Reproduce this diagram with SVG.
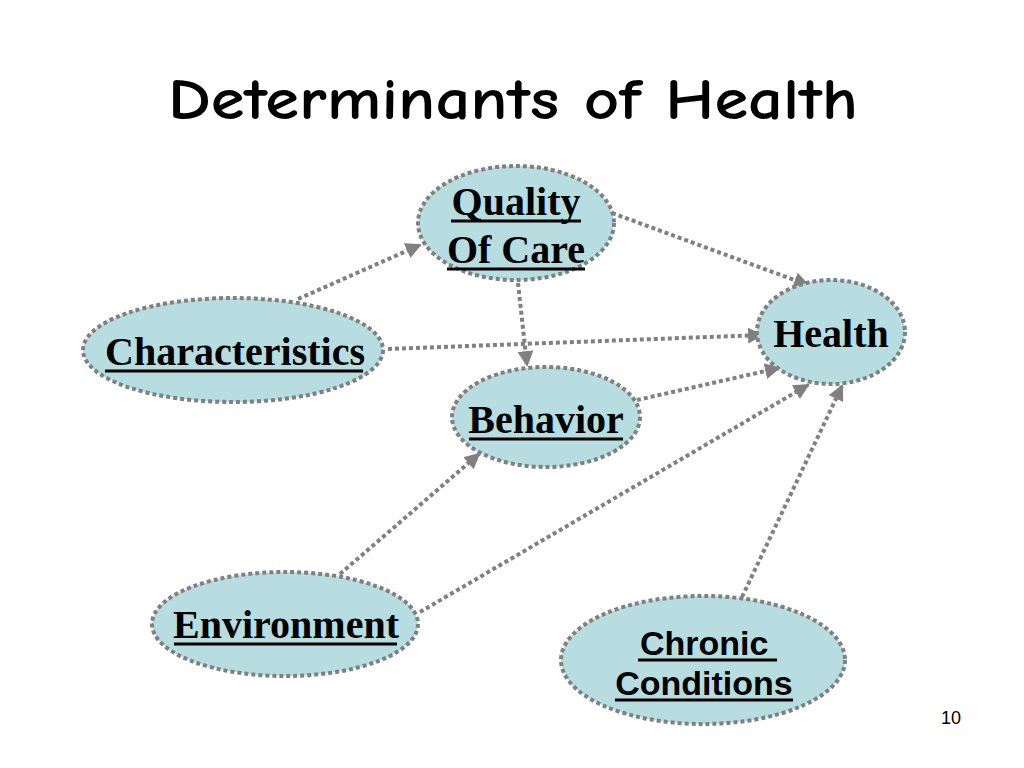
<svg xmlns="http://www.w3.org/2000/svg" width="1024" height="768" viewBox="0 0 1024 768">
<defs>
<marker id="ah" markerWidth="4" markerHeight="4" refX="3.5" refY="2" orient="auto" markerUnits="strokeWidth">
<path d="M0,0 L4,2 L0,4 Z" fill="#808080"/>
</marker>
<style>
.node{fill:#b7dde1;stroke:#808080;stroke-width:4;stroke-dasharray:4 3}
.edge{fill:none;stroke:#808080;stroke-width:4;stroke-dasharray:4 3;marker-end:url(#ah)}
.lbl{font-family:"Liberation Serif",serif;font-weight:bold;font-size:40px;fill:#000;text-anchor:middle}
.lbls{font-family:"Liberation Sans",sans-serif;font-weight:bold;font-size:34px;fill:#000;text-anchor:middle}
.ul{stroke:#000;stroke-width:3}
</style>
</defs>
<rect width="1024" height="768" fill="#fff"/>
<text x="168" y="119" font-family="'Comic Neue','Liberation Sans',sans-serif" font-weight="bold" font-size="58" fill="#000" textLength="690" lengthAdjust="spacingAndGlyphs">Determinants of Health</text>
<g id="connectors">
<line class="edge" x1="298" y1="299" x2="420" y2="245"/>
<line class="edge" x1="612" y1="213" x2="808" y2="285"/>
<line class="edge" x1="388" y1="349" x2="762" y2="335"/>
<line class="edge" x1="518" y1="283" x2="527" y2="365"/>
<line class="edge" x1="637" y1="400" x2="779" y2="368"/>
<line class="edge" x1="340" y1="574" x2="479" y2="454"/>
<line class="edge" x1="420" y1="612" x2="808" y2="385"/>
<line class="edge" x1="742" y1="597" x2="842" y2="386"/>
</g>
<g id="quality">
<ellipse class="node" cx="516" cy="223" rx="98" ry="57"/>
<text class="lbl" x="516" y="215">Quality</text>
<line class="ul" x1="451" y1="221" x2="581" y2="221"/>
<text class="lbl" x="516" y="263">Of Care</text>
<line class="ul" x1="447" y1="269" x2="585" y2="269"/>
</g>
<g id="characteristics">
<ellipse class="node" cx="233" cy="350" rx="150" ry="52"/>
<text class="lbl" x="235" y="365">Characteristics</text>
<line class="ul" x1="105" y1="371" x2="363" y2="371"/>
</g>
<g id="behavior">
<ellipse class="node" cx="546" cy="417" rx="94" ry="50"/>
<text class="lbl" x="546" y="433">Behavior</text>
<line class="ul" x1="469" y1="439" x2="623" y2="439"/>
</g>
<g id="health">
<ellipse class="node" cx="831" cy="332" rx="74" ry="52"/>
<text class="lbl" x="831" y="347">Health</text>
</g>
<g id="environment">
<ellipse class="node" cx="285" cy="624" rx="133" ry="52"/>
<text class="lbl" x="286" y="638">Environment</text>
<line class="ul" x1="174" y1="644" x2="397" y2="644"/>
</g>
<g id="chronic">
<ellipse class="node" cx="703" cy="660" rx="142" ry="64"/>
<text class="lbls" x="640" y="655" style="text-anchor:start">Chronic </text>
<line class="ul" x1="638" y1="660" x2="777" y2="660"/>
<text class="lbls" x="704" y="695">Conditions</text>
<line class="ul" x1="615" y1="700" x2="793" y2="700"/>
</g>
<text x="951" y="724" font-family="'Liberation Sans',sans-serif" font-size="18" fill="#000" text-anchor="middle">10</text>
</svg>
